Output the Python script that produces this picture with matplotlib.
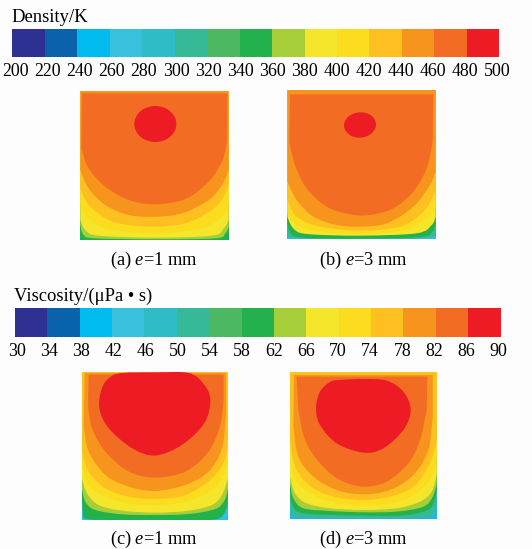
import numpy as np
import matplotlib
matplotlib.use('Agg')
import matplotlib.pyplot as plt
from matplotlib.colors import ListedColormap
from matplotlib.patches import Ellipse, PathPatch
from matplotlib.path import Path

plt.rcParams['font.family'] = ['Liberation Serif', 'DejaVu Sans']
plt.rcParams['mathtext.fontset'] = 'custom'
plt.rcParams['mathtext.rm'] = 'Liberation Serif'
plt.rcParams['mathtext.it'] = 'Liberation Serif:italic'

W, H = 532, 549
BG = '#fdfdfd'

density_ticks = [200, 220, 240, 260, 280, 300, 320, 340, 360, 380, 400, 420, 440, 460, 480, 500]
viscosity_ticks = [30, 34, 38, 42, 46, 50, 54, 58, 62, 66, 70, 74, 78, 82, 86, 90]

band_colors = ['#2e3192', '#0b62ac', '#00bbf0', '#39c0dc', '#30bcc6', '#36b996', '#4cb962', '#22b14c',
               '#a6ce39', '#f5e62c', '#fbdc1e', '#fdc020', '#f7941e', '#f36c24', '#ed1c24']
CYAN, TEAL, GREEN, LIME, YELLOW, GOLD, AMBER, ORANGE, DARK, RED = (
    '#2fbfe0', '#36b996', '#22b14c', '#a6ce39', '#f5e62c', '#fbdc1e', '#fdc020', '#f7941e', '#f36c24', '#ed1c24')

# contour outlines, in panel pixels (3x zoom), each closed along the top
a_lime = [(25, 18), (25, 420), (35, 450), (70, 460), (250, 463), (430, 460), (460, 445), (470, 425), (470, 18)]
a_yellow = [(25, 18), (25, 405), (40, 435), (80, 452), (250, 458), (420, 452), (455, 430), (470, 405), (470, 18)]
a_gold = [(25, 18), (25, 360), (50, 400), (110, 432), (250, 445), (390, 430), (450, 395), (470, 360), (470, 18)]
a_amber = [(25, 18), (25, 310), (50, 360), (110, 405), (170, 420), (250, 425), (340, 415), (420, 375), (455, 335), (470, 300), (470, 18)]
a_orange = [(25, 18), (25, 255), (50, 310), (100, 360), (170, 390), (250, 395), (330, 385), (410, 345), (450, 300), (470, 255), (470, 18)]
a_dark = [(30, 25), (28, 190), (50, 250), (100, 305), (170, 345), (250, 358), (340, 342), (410, 290), (450, 230), (465, 170), (466, 25)]
a_red = (250, 117, 126, 108)

b_teal = [(52, 15), (52, 430), (60, 458), (270, 463), (480, 458), (497, 430), (497, 15)]
b_green = [(52, 15), (52, 415), (62, 445), (100, 458), (270, 461), (450, 456), (487, 440), (497, 415), (497, 15)]
b_yellow = [(52, 15), (52, 395), (70, 430), (110, 447), (270, 452), (440, 445), (485, 420), (497, 395), (497, 15)]
b_gold = [(52, 15), (52, 385), (80, 420), (150, 440), (270, 447), (400, 437), (470, 400), (497, 370), (497, 15)]
b_amber = [(52, 15), (52, 345), (80, 395), (150, 425), (270, 437), (390, 425), (460, 380), (497, 320), (497, 15)]
b_orange = [(52, 15), (52, 290), (80, 345), (130, 395), (200, 420), (270, 425), (350, 415), (430, 365), (480, 300), (497, 260), (497, 15)]
b_dark = [(60, 28), (58, 170), (75, 240), (110, 310), (170, 365), (240, 388), (300, 390), (370, 370), (430, 320), (470, 250), (488, 170), (490, 28)]
b_red = (270, 120, 96, 76)

c_green = [(30, 22), (30, 400), (33, 440), (45, 462), (150, 465), (250, 465), (350, 465), (435, 462), (462, 435), (468, 400), (468, 22)]
c_lime = [(30, 22), (30, 370), (40, 410), (70, 435), (150, 448), (250, 450), (350, 447), (430, 432), (458, 405), (468, 370), (468, 22)]
c_yellow = [(30, 22), (30, 340), (45, 385), (80, 420), (150, 437), (250, 443), (350, 437), (420, 420), (450, 390), (468, 340), (468, 22)]
c_gold = [(30, 22), (30, 290), (45, 355), (100, 395), (170, 415), (250, 420), (340, 410), (420, 375), (455, 330), (468, 280), (468, 22)]
c_amber = [(30, 22), (30, 260), (50, 320), (100, 370), (170, 395), (250, 402), (340, 390), (420, 340), (460, 280), (468, 200), (468, 22)]
c_orange = [(38, 25), (35, 180), (50, 260), (100, 330), (170, 365), (250, 378), (340, 360), (410, 320), (450, 250), (462, 150), (462, 25)]
c_dark = [(50, 30), (48, 120), (60, 190), (100, 260), (170, 320), (250, 338), (340, 320), (410, 260), (445, 180), (455, 100), (455, 30)]
c_red = [(150, 25), (250, 23), (350, 25), (395, 58), (415, 105), (397, 175), (330, 240), (250, 272), (180, 250), (110, 190), (82, 130), (90, 70), (115, 37)]

d_teal = [(60, 37), (60, 420), (65, 460), (90, 472), (280, 475), (470, 472), (495, 450), (500, 420), (500, 37)]
d_green = [(60, 37), (60, 385), (65, 430), (90, 458), (180, 465), (280, 467), (390, 467), (470, 452), (492, 425), (500, 390), (500, 37)]
d_lime = [(60, 37), (60, 370), (70, 415), (100, 445), (180, 453), (280, 457), (380, 455), (460, 440), (488, 410), (500, 370), (500, 37)]
d_yellow = [(60, 37), (60, 350), (75, 400), (110, 430), (180, 445), (280, 450), (380, 445), (450, 425), (485, 395), (500, 345), (500, 37)]
d_gold = [(60, 37), (60, 300), (80, 365), (130, 405), (200, 430), (280, 437), (370, 428), (440, 400), (485, 350), (500, 290), (500, 37)]
d_amber = [(60, 37), (60, 250), (80, 330), (130, 385), (200, 412), (280, 420), (360, 410), (430, 380), (480, 310), (500, 240), (500, 37)]
d_orange = [(72, 45), (70, 200), (85, 290), (130, 350), (200, 390), (280, 403), (360, 390), (430, 345), (475, 270), (488, 170), (488, 45)]
d_dark = [(80, 50), (85, 150), (105, 240), (150, 310), (210, 360), (280, 380), (350, 365), (415, 310), (450, 240), (470, 150), (472, 50)]
d_red = [(210, 60), (280, 57), (350, 62), (400, 95), (422, 150), (400, 210), (340, 265), (280, 278), (200, 250), (150, 195), (138, 145), (150, 95), (180, 66)]


def px_axes(x0, y0, x1, y1):
    ax = fig.add_axes([x0 / W, 1 - y1 / H, (x1 - x0) / W, (y1 - y0) / H])
    ax.patch.set_alpha(0)
    for s in ax.spines.values():
        s.set_visible(False)
    return ax


def bezier_through(p, closed=False):
    # bezier handles so the drawn curve goes through every outline point
    p = np.array(p, dtype=float)
    n = len(p)
    verts = []
    for i in range(n if closed else n - 1):
        p1, p2 = p[i], p[(i + 1) % n]
        p0 = p[(i - 1) % n] if closed or i > 0 else p1
        p3 = p[(i + 2) % n] if closed or i < n - 2 else p2
        verts += [p1 + (p2 - p0) / 6, p2 - (p3 - p1) / 6, p2]
    return verts


def band(ax, pts, color):
    curve = bezier_through(pts[1:-1])
    verts = [pts[0], pts[1]] + curve + [pts[-1], pts[0]]
    codes = [Path.MOVETO, Path.LINETO] + [Path.CURVE4] * len(curve) + [Path.LINETO, Path.CLOSEPOLY]
    ax.add_patch(PathPatch(Path(verts, codes), fc=color, ec='none'))


def blob(ax, pts, color):
    curve = bezier_through(pts, closed=True)
    verts = [pts[0]] + curve
    codes = [Path.MOVETO] + [Path.CURVE4] * len(curve)
    ax.add_patch(PathPatch(Path(verts, codes), fc=color, ec='none'))


def colorbar(x0, x1, y0, y1, ticks, lab0, lab1, lab_y):
    ax = px_axes(x0, y0, x1, y1)
    ax.pcolormesh(ticks, [0, 1], [np.arange(len(band_colors))], cmap=ListedColormap(band_colors))
    ax.set_xticks([])
    ax.set_yticks([])
    lab = px_axes(lab0, lab_y, lab1, lab_y + 1)
    lab.set_xlim(ticks[0], ticks[-1])
    lab.set_yticks([])
    lab.set_xticks(ticks)
    lab.set_xticklabels([str(t) for t in ticks], fontsize=12.9)
    lab.tick_params(length=0, pad=0)


def panel(box, lims, layers, base):
    ax = px_axes(*box)
    ax.set_xlim(lims[0], lims[1])
    ax.set_ylim(lims[3], lims[2])
    ax.set_xticks([])
    ax.set_yticks([])
    ax.patch.set_alpha(1)
    ax.set_facecolor(base)
    for pts, color in layers:
        band(ax, pts, color)
    return ax


fig = plt.figure(figsize=(W / 100, H / 100), dpi=100, facecolor=BG)

fig.text(11 / W, 1 - 21.5 / H, 'Density/K', fontsize=13.4, va='baseline')
fig.text(14 / W, 1 - 300.5 / H, 'Viscosity/(\u03bcPa \u2022 s)', fontsize=13.4, va='baseline')

colorbar(12.3, 499.3, 28.7, 57.3, density_ticks, 15.5, 497.4, 62)
colorbar(15, 500.5, 308.3, 336.7, viscosity_ticks, 16.7, 498.7, 342)

ax_a = panel((80.3, 91, 228.7, 240), (25, 470, 18, 465),
             [(a_lime, LIME), (a_yellow, YELLOW), (a_gold, GOLD), (a_amber, AMBER), (a_orange, ORANGE), (a_dark, DARK)], GREEN)
ax_a.add_patch(Ellipse(a_red[:2], a_red[2], a_red[3], fc=RED, ec='none'))

ax_b = panel((287.3, 90, 435.7, 239.3), (52, 497, 15, 463),
             [(b_teal, TEAL), (b_green, GREEN), (b_yellow, YELLOW), (b_gold, GOLD), (b_amber, AMBER), (b_orange, ORANGE), (b_dark, DARK)], CYAN)
ax_b.add_patch(Ellipse(b_red[:2], b_red[2], b_red[3], angle=-5, fc=RED, ec='none'))

ax_c = panel((82, 372, 228, 520), (30, 468, 22, 465),
             [(c_green, GREEN), (c_lime, LIME), (c_yellow, YELLOW), (c_gold, GOLD), (c_amber, AMBER), (c_orange, ORANGE), (c_dark, DARK)], CYAN)
blob(ax_c, c_red, RED)

ax_d = panel((290, 372.3, 436.7, 519.3), (60, 500, 37, 478),
             [(d_teal, TEAL), (d_green, GREEN), (d_lime, LIME), (d_yellow, YELLOW), (d_gold, GOLD), (d_amber, AMBER), (d_orange, ORANGE), (d_dark, DARK)], '#1fb5ea')
blob(ax_d, d_red, RED)

fig.text(153.7 / W, 1 - 265 / H, '(a) $e$=1 mm', fontsize=13.2, ha='center', va='baseline')
fig.text(363 / W, 1 - 265 / H, '(b) $e$=3 mm', fontsize=13.2, ha='center', va='baseline')
fig.text(153.7 / W, 1 - 544 / H, '(c) $e$=1 mm', fontsize=13.2, ha='center', va='baseline')
fig.text(363 / W, 1 - 544 / H, '(d) $e$=3 mm', fontsize=13.2, ha='center', va='baseline')

fig.savefig('out.png', dpi=100, facecolor=BG)
